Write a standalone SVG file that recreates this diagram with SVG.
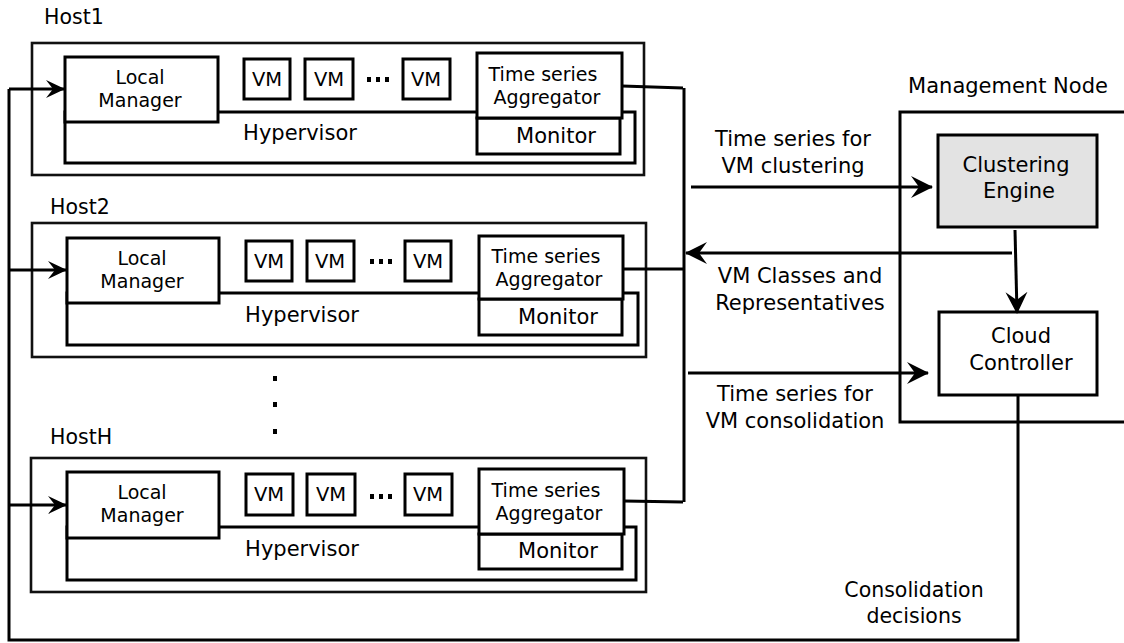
<svg xmlns="http://www.w3.org/2000/svg" width="1124" height="643" viewBox="0 0 1124 643">
<style>
text{font-family:"DejaVu Sans","Liberation Sans",sans-serif;fill:#000}
.lbl{font-size:21px;text-anchor:middle}
.host{font-size:20.5px}
.nt{font-size:19px;text-anchor:middle}
.mon{font-size:21px;text-anchor:middle}
.vm{font-size:19.5px;text-anchor:middle}
.hyp{font-size:21px;text-anchor:middle}
.box{fill:#fff;stroke:#000;stroke-width:3}
.outer{fill:none;stroke:#111;stroke-width:2.6}
.line{fill:none;stroke:#000;stroke-width:3}
</style>
<defs>
<marker id="ah" markerUnits="userSpaceOnUse" markerWidth="22" markerHeight="22" viewBox="0 0 22 22" refX="21" refY="11" orient="auto">
<path d="M0,0 L22,11 L0,22 L8,11 Z" fill="#000"/>
</marker>
<marker id="ahs" markerUnits="userSpaceOnUse" markerWidth="19" markerHeight="18" viewBox="0 0 19 18" refX="18" refY="9" orient="auto">
<path d="M0,0 L19,9 L0,18 L7,9 Z" fill="#000"/>
</marker>
</defs>

<g id="host1">
<text class="host" x="44" y="24">Host1</text>
<rect class="outer" x="32" y="43" width="612" height="132"/>
<rect class="box" x="65" y="112" width="570" height="51"/>
<text class="hyp" x="300" y="140">Hypervisor</text>
<rect class="box" x="65" y="57" width="153" height="65"/>
<text class="nt" x="140" y="84">Local</text>
<text class="nt" x="140" y="107">Manager</text>
<rect class="box" x="244" y="59" width="46" height="40"/>
<text class="vm" x="267" y="86">VM</text>
<rect class="box" x="305" y="59" width="48" height="40"/>
<text class="vm" x="329" y="86">VM</text>
<g fill="#000"><rect x="367" y="77" width="4" height="5"/><rect x="376" y="77" width="4" height="5"/><rect x="385" y="77" width="4" height="5"/></g>
<rect class="box" x="403" y="59" width="47" height="40"/>
<text class="vm" x="426" y="86">VM</text>
<rect class="box" x="477" y="118" width="143" height="36"/>
<text class="mon" x="556" y="143">Monitor</text>
<rect class="box" x="477" y="53" width="145" height="65"/>
<text class="nt" x="543" y="81">Time series</text>
<text class="nt" x="547" y="104">Aggregator</text>
</g>

<g id="host2">
<text class="host" x="50" y="214">Host2</text>
<rect class="outer" x="32" y="223" width="614" height="134"/>
<rect class="box" x="67" y="293" width="571" height="52"/>
<text class="hyp" x="302" y="322">Hypervisor</text>
<rect class="box" x="67" y="238" width="152" height="65"/>
<text class="nt" x="142" y="265">Local</text>
<text class="nt" x="142" y="288">Manager</text>
<rect class="box" x="246" y="241" width="46" height="40"/>
<text class="vm" x="269" y="268">VM</text>
<rect class="box" x="307" y="241" width="47" height="40"/>
<text class="vm" x="330" y="268">VM</text>
<g fill="#000"><rect x="370" y="259" width="4" height="5"/><rect x="379" y="259" width="4" height="5"/><rect x="388" y="259" width="4" height="5"/></g>
<rect class="box" x="405" y="241" width="46" height="40"/>
<text class="vm" x="428" y="268">VM</text>
<rect class="box" x="479" y="299" width="143" height="36"/>
<text class="mon" x="558" y="324">Monitor</text>
<rect class="box" x="479" y="236" width="144" height="63"/>
<text class="nt" x="546" y="263">Time series</text>
<text class="nt" x="549" y="286">Aggregator</text>
</g>

<g id="dots" fill="#000">
<rect x="273" y="376" width="4" height="5"/>
<rect x="273" y="402" width="4" height="5"/>
<rect x="273" y="429" width="4" height="5"/>
</g>

<g id="hostH">
<text class="host" x="50" y="444">HostH</text>
<rect class="outer" x="31" y="458" width="615" height="134"/>
<rect class="box" x="67" y="527" width="569" height="53"/>
<text class="hyp" x="302" y="556">Hypervisor</text>
<rect class="box" x="67" y="472" width="152" height="66"/>
<text class="nt" x="142" y="499">Local</text>
<text class="nt" x="142" y="522">Manager</text>
<rect class="box" x="246" y="474" width="47" height="41"/>
<text class="vm" x="269" y="501">VM</text>
<rect class="box" x="307" y="474" width="48" height="41"/>
<text class="vm" x="331" y="501">VM</text>
<g fill="#000"><rect x="370" y="494" width="4" height="5"/><rect x="379" y="494" width="4" height="5"/><rect x="388" y="494" width="4" height="5"/></g>
<rect class="box" x="405" y="474" width="47" height="41"/>
<text class="vm" x="428" y="501">VM</text>
<rect class="box" x="479" y="534" width="143" height="35"/>
<text class="mon" x="558" y="558">Monitor</text>
<rect class="box" x="479" y="469" width="145" height="65"/>
<text class="nt" x="546" y="497">Time series</text>
<text class="nt" x="549" y="520">Aggregator</text>
</g>

<g id="management-node">
<text class="lbl" x="1008" y="93">Management Node</text>
<path class="line" d="M1126,112 H900 V422 H1126"/>
</g>

<g id="clustering-engine">
<rect x="938" y="135" width="159" height="92" fill="#e3e3e3" stroke="#000" stroke-width="3"/>
<text class="lbl" x="1016" y="172">Clustering</text>
<text class="lbl" x="1019" y="198">Engine</text>
</g>

<g id="cloud-controller">
<rect class="box" x="939" y="312" width="158" height="83"/>
<text class="lbl" x="1021" y="343">Cloud</text>
<text class="lbl" x="1021" y="370">Controller</text>
</g>

<g id="connectors">
<path class="line" d="M1018,395 V640 H9 V89"/>
<path class="line" d="M9,89 H64" marker-end="url(#ahs)"/>
<path class="line" d="M9,270 H66" marker-end="url(#ahs)"/>
<path class="line" d="M9,505 H66" marker-end="url(#ahs)"/>
<path class="line" d="M622,86 L683,88"/>
<path class="line" d="M623,269 H685"/>
<path class="line" d="M624,501 L683,502"/>
<path class="line" d="M684,88 V502"/>
<path class="line" d="M691,187 H932" marker-end="url(#ah)"/>
<path class="line" d="M1012,253 H686" marker-end="url(#ah)"/>
<path class="line" d="M1015,230 L1017,313" marker-end="url(#ah)"/>
<path class="line" d="M688,373 H928" marker-end="url(#ah)"/>
</g>

<g id="labels">
<text class="lbl" x="793" y="146">Time series for</text>
<text class="lbl" x="793" y="173">VM clustering</text>
<text class="lbl" x="800" y="283">VM Classes and</text>
<text class="lbl" x="800" y="310">Representatives</text>
<text class="lbl" x="795" y="401">Time series for</text>
<text class="lbl" x="795" y="428">VM consolidation</text>
<text class="lbl" x="914" y="597" style="font-size:20.5px">Consolidation</text>
<text class="lbl" x="914" y="623" style="font-size:20.5px">decisions</text>
</g>
</svg>
